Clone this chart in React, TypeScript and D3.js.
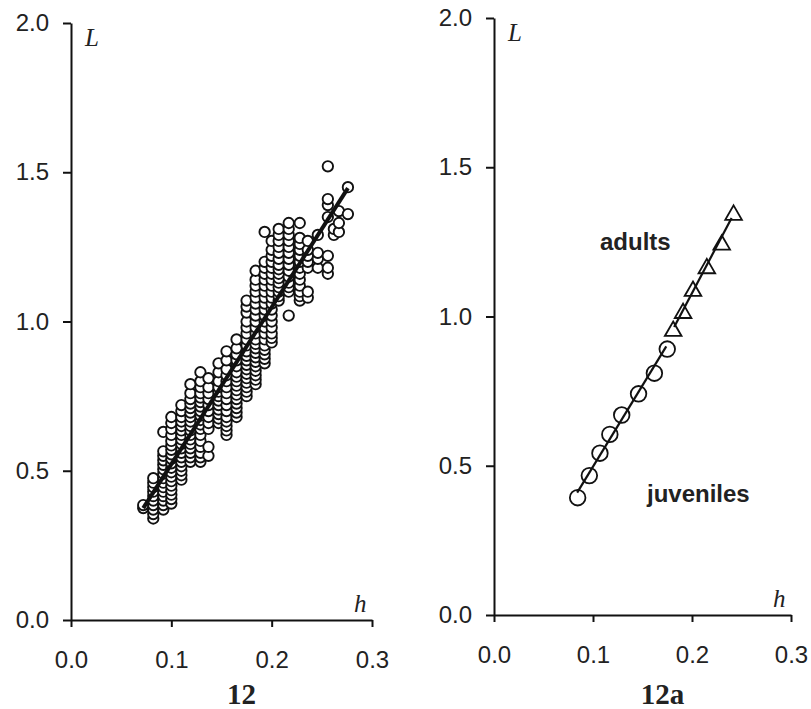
import { useEffect, useRef } from 'react';
import * as d3 from 'd3';

// panel 12: columns of measurements (h, list of L)
const scatterColumns = [
  { h: 0.072, L: [0.375, 0.385] },
  { h: 0.082, L: [0.34, 0.355, 0.37, 0.385, 0.4, 0.415, 0.43, 0.445, 0.46, 0.475] },
  { h: 0.092, L: [0.37, 0.385, 0.4, 0.415, 0.43, 0.445, 0.46, 0.475, 0.49, 0.505, 0.52, 0.535, 0.55, 0.565, 0.63] },
  { h: 0.1, L: [0.39, 0.405, 0.42, 0.435, 0.45, 0.465, 0.48, 0.495, 0.51, 0.525, 0.54, 0.555, 0.57, 0.585, 0.6, 0.62, 0.64, 0.66, 0.68] },
  { h: 0.11, L: [0.47, 0.485, 0.5, 0.515, 0.53, 0.545, 0.56, 0.575, 0.59, 0.605, 0.62, 0.635, 0.65, 0.665, 0.68, 0.7, 0.72] },
  { h: 0.119, L: [0.53, 0.545, 0.56, 0.575, 0.59, 0.605, 0.62, 0.635, 0.65, 0.665, 0.68, 0.695, 0.71, 0.725, 0.74, 0.76, 0.79] },
  { h: 0.129, L: [0.53, 0.545, 0.56, 0.58, 0.6, 0.62, 0.64, 0.655, 0.67, 0.685, 0.7, 0.715, 0.73, 0.745, 0.76, 0.78, 0.8, 0.83] },
  { h: 0.137, L: [0.55, 0.58, 0.64, 0.66, 0.68, 0.7, 0.72, 0.74, 0.76, 0.78, 0.81] },
  { h: 0.147, L: [0.66, 0.675, 0.69, 0.705, 0.72, 0.735, 0.75, 0.765, 0.78, 0.8, 0.83, 0.86] },
  { h: 0.155, L: [0.62, 0.635, 0.65, 0.665, 0.68, 0.7, 0.72, 0.74, 0.76, 0.78, 0.8, 0.82, 0.84, 0.87, 0.9] },
  { h: 0.165, L: [0.68, 0.695, 0.71, 0.725, 0.74, 0.755, 0.77, 0.785, 0.8, 0.815, 0.83, 0.85, 0.87, 0.89, 0.91, 0.94] },
  { h: 0.175, L: [0.75, 0.765, 0.78, 0.795, 0.81, 0.825, 0.84, 0.855, 0.87, 0.885, 0.9, 0.92, 0.94, 0.96, 0.98, 1.0, 1.03, 1.05, 1.07] },
  { h: 0.184, L: [0.79, 0.805, 0.82, 0.835, 0.85, 0.865, 0.88, 0.895, 0.91, 0.925, 0.94, 0.96, 0.98, 1.0, 1.02, 1.04, 1.06, 1.08, 1.1, 1.12, 1.14, 1.17] },
  { h: 0.193, L: [0.86, 0.875, 0.89, 0.905, 0.92, 0.94, 0.96, 0.98, 1.0, 1.02, 1.04, 1.06, 1.08, 1.1, 1.12, 1.14, 1.16, 1.18, 1.2, 1.3] },
  { h: 0.2, L: [0.93, 0.945, 0.96, 0.98, 1.0, 1.02, 1.04, 1.06, 1.08, 1.1, 1.12, 1.14, 1.16, 1.18, 1.2, 1.22, 1.24, 1.27] },
  { h: 0.207, L: [1.07, 1.085, 1.1, 1.115, 1.13, 1.145, 1.16, 1.175, 1.19, 1.21, 1.23, 1.25, 1.27, 1.29, 1.31] },
  { h: 0.217, L: [1.02, 1.1, 1.115, 1.13, 1.15, 1.17, 1.19, 1.21, 1.23, 1.25, 1.27, 1.29, 1.31, 1.33] },
  { h: 0.228, L: [1.07, 1.085, 1.1, 1.12, 1.14, 1.16, 1.18, 1.2, 1.22, 1.24, 1.26, 1.28, 1.33] },
  { h: 0.236, L: [1.08, 1.1, 1.18, 1.2, 1.22, 1.24, 1.27] },
  { h: 0.246, L: [1.18, 1.21, 1.23, 1.29] },
  { h: 0.256, L: [1.16, 1.18, 1.22, 1.35, 1.39, 1.41, 1.52] },
  { h: 0.262, L: [1.29, 1.31] },
  { h: 0.267, L: [1.3, 1.33, 1.37] },
  { h: 0.276, L: [1.36, 1.45] },
];
const allFitH = [0.072, 0.276];
const allFitL = [0.375, 1.447];

// panel 12a
const juvH = [0.0845, 0.0963, 0.107, 0.117, 0.129, 0.146, 0.162, 0.175];
const juvL = [0.393, 0.467, 0.542, 0.605, 0.67, 0.741, 0.81, 0.891];
const adH = [0.181, 0.191, 0.201, 0.215, 0.23, 0.242];
const adL = [0.951, 1.011, 1.085, 1.161, 1.24, 1.34];
const juvFitH = [0.084, 0.174];
const juvFitL = [0.41, 0.9];
const adFitH = [0.182, 0.24];
const adFitL = [0.965, 1.33];

const xTicks = [0, 0.1, 0.2, 0.3];
const yTicks = [0, 0.5, 1.0, 1.5, 2.0];

const W = 811;
const H = 709;
const sans = 'Arial, "Liberation Sans", sans-serif';
const serif = '"Times New Roman", "Liberation Serif", serif';

export default function App() {
  const svgRef = useRef<SVGSVGElement | null>(null);

  useEffect(() => {
    if (!svgRef.current) return;
    const svg = d3.select(svgRef.current);
    svg.selectAll('*').remove();

    function drawPanel(x0: number, x1: number, y0: number, y1: number, title: string) {
      const x = d3.scaleLinear().domain([0, 0.3]).range([x0, x1]);
      const y = d3.scaleLinear().domain([0, 2]).range([y0, y1]);
      const g = svg.append('g');

      const xAxis = g.append('g')
        .attr('transform', `translate(0,${y0})`)
        .call(d3.axisBottom(x).tickValues(xTicks).tickSize(7).tickSizeOuter(0).tickPadding(24).tickFormat(d3.format('.1f')));
      const yAxis = g.append('g')
        .attr('transform', `translate(${x0},0)`)
        .call(d3.axisLeft(y).tickValues(yTicks).tickSize(8).tickSizeOuter(0).tickPadding(14).tickFormat(d3.format('.1f')));

      [xAxis, yAxis].forEach(a => {
        a.selectAll('path, line').attr('stroke', '#111').attr('stroke-width', 2);
        a.selectAll('text')
          .attr('fill', '#222')
          .style('font-family', sans)
          .style('font-size', '24px');
      });

      g.append('text')
        .attr('x', x0 + 14)
        .attr('y', y1 + 23)
        .style('font-family', serif)
        .style('font-style', 'italic')
        .style('font-size', '25px')
        .attr('fill', '#222')
        .text('L');
      g.append('text')
        .attr('x', x1 - 18)
        .attr('y', y0 - 8)
        .style('font-family', serif)
        .style('font-style', 'italic')
        .style('font-size', '25px')
        .attr('fill', '#222')
        .text('h');
      g.append('text')
        .attr('x', (x0 + x1) / 2 + 20)
        .attr('y', 704)
        .attr('text-anchor', 'middle')
        .style('font-family', serif)
        .style('font-weight', 'bold')
        .style('font-size', '29px')
        .attr('fill', '#222')
        .text(title);
      return { x, y, g };
    }

    // panel 12
    const p1 = drawPanel(71, 372, 620, 23, '12');
    const pts = scatterColumns.flatMap(c => c.L.map(l => ({ h: c.h, L: l })));
    p1.g.append('g')
      .selectAll('circle')
      .data(pts)
      .enter()
      .append('circle')
      .attr('cx', d => p1.x(d.h))
      .attr('cy', d => p1.y(d.L))
      .attr('r', 5.2)
      .attr('fill', 'white')
      .attr('stroke', '#111')
      .attr('stroke-width', 1.9);
    p1.g.append('line')
      .attr('x1', p1.x(allFitH[0]))
      .attr('y1', p1.y(allFitL[0]))
      .attr('x2', p1.x(allFitH[1]))
      .attr('y2', p1.y(allFitL[1]))
      .attr('stroke', '#111')
      .attr('stroke-width', 4);

    // panel 12a
    const p2 = drawPanel(494, 791, 615, 18, '12a');
    p2.g.append('g')
      .selectAll('circle')
      .data(juvH.map((h, i) => ({ h, L: juvL[i] })))
      .enter()
      .append('circle')
      .attr('cx', d => p2.x(d.h))
      .attr('cy', d => p2.y(d.L))
      .attr('r', 7.8)
      .attr('fill', 'white')
      .attr('stroke', '#111')
      .attr('stroke-width', 1.8);
    const tri = d3.symbol().type(d3.symbolTriangle).size(120);
    p2.g.append('g')
      .selectAll('path')
      .data(adH.map((h, i) => ({ h, L: adL[i] })))
      .enter()
      .append('path')
      .attr('d', tri)
      .attr('transform', d => `translate(${p2.x(d.h)},${p2.y(d.L)})`)
      .attr('fill', 'white')
      .attr('stroke', '#111')
      .attr('stroke-width', 1.8);
    [[juvFitH, juvFitL], [adFitH, adFitL]].forEach(([hh, ll]) => {
      p2.g.append('line')
        .attr('x1', p2.x(hh[0]))
        .attr('y1', p2.y(ll[0]))
        .attr('x2', p2.x(hh[1]))
        .attr('y2', p2.y(ll[1]))
        .attr('stroke', '#111')
        .attr('stroke-width', 2.2);
    });
    p2.g.append('text')
      .attr('x', 600)
      .attr('y', 250)
      .style('font-family', sans)
      .style('font-weight', 'bold')
      .style('font-size', '24px')
      .attr('fill', '#222')
      .text('adults');
    p2.g.append('text')
      .attr('x', 647)
      .attr('y', 502)
      .style('font-family', sans)
      .style('font-weight', 'bold')
      .style('font-size', '24px')
      .attr('fill', '#222')
      .text('juveniles');
  }, []);

  return (
    <svg
      ref={svgRef}
      width={W}
      height={H}
      style={{ position: 'absolute', left: 0, top: 0, background: 'white' }}
    />
  );
}
